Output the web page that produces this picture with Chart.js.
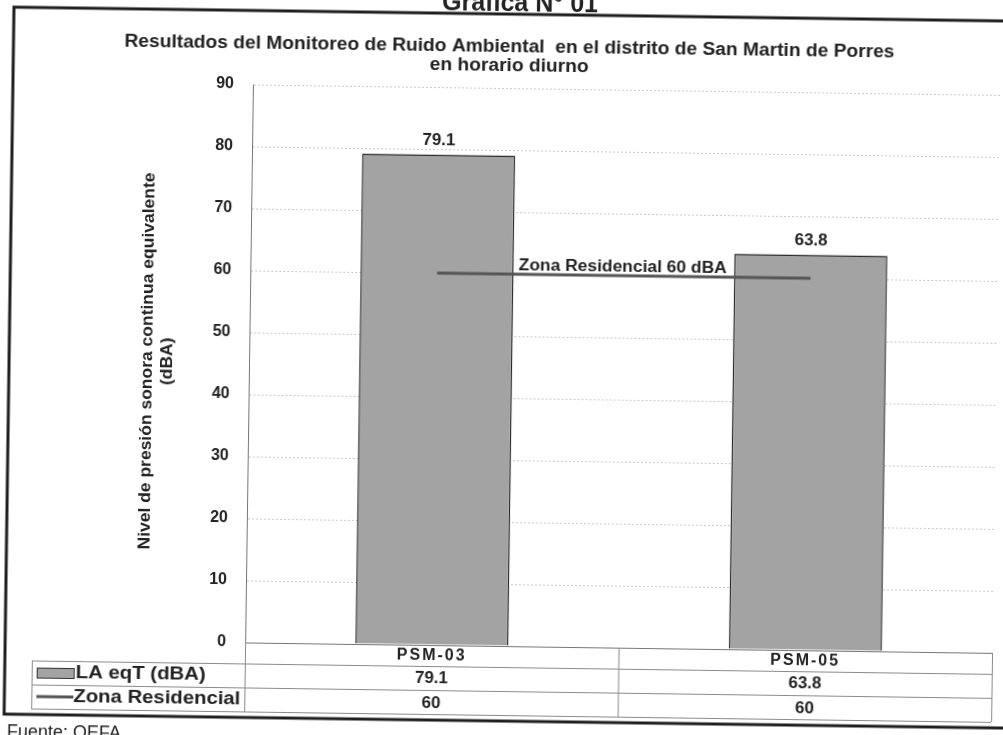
<!DOCTYPE html>
<html lang="es">
<head>
<meta charset="UTF-8">
<title>Grafica N° 01</title>
<script src="https://cdn.jsdelivr.net/npm/chart.js@4.4.0/dist/chart.umd.min.js"></script>
<style>
    html, body { margin: 0; padding: 0; background: #fff; overflow: hidden; width: 1003px; height: 735px; }
    /* canvas is 20px larger on each side so the slight scan tilt leaves no bare corners */
    .wrap { position: absolute; left: -20px; top: -20px; width: 1043px; height: 775px; transform: rotate(0.8deg); transform-origin: 50% 50%; }
    canvas { display: block; }
</style>
</head>
<body>
<div class="wrap"><canvas id="chart" width="1043" height="775" style="width:1043px;height:775px"></canvas></div>
<script>
// chart data
const categories = ['PSM-03', 'PSM-05'];
const laeqValues = [79.1, 63.8];
const residentialLimit = [60, 60];
const seriesLabels = ['LA eqT (dBA)', 'Zona Residencial'];
const yMin = 0, yMax = 90, yStep = 10;

// texts
const figureTitle = 'Grafica N° 01';
const chartTitle = ['Resultados del Monitoreo de Ruido Ambiental  en el distrito de San Martin de Porres', 'en horario diurno'];
const yTitle = ['Nivel de presión sonora continua equivalente', '(dBA)'];
const limitNote = 'Zona Residencial 60 dBA';
const sourceNote = 'Fuente: OEFA';

const OFF = 20; // canvas margin beyond the page
const SANS = '"Liberation Sans", Arial, sans-serif';
const INK = '#222';
const BAR_FILL = '#a3a3a3';
const LINE_COLOR = '#555';

// draws text squeezed/stretched horizontally to a given width (Arial Narrow look)
function fitText(ctx, str, x, y, font, width, align, sx) {
    ctx.font = font;
    const k = sx || width / ctx.measureText(str).width;
    ctx.save();
    ctx.translate(x, y);
    ctx.scale(k, 1);
    ctx.textAlign = align || 'center';
    ctx.fillText(str, 0, 0);
    ctx.restore();
    return k;
}

const decor = {
    id: 'decor',
    afterDraw(chart) {
        const ctx = chart.ctx;
        const x = chart.scales.x;
        // work in page coordinates
        const area = {
            left: chart.chartArea.left - OFF, right: chart.chartArea.right - OFF,
            bottom: chart.chartArea.bottom - OFF
        };
        const px = i => x.getPixelForValue(i) - OFF;
        ctx.save();
        ctx.translate(OFF, OFF);

        // outer frame (right side runs off the page)
        ctx.strokeStyle = '#1e1e1e';
        ctx.lineWidth = 3;
        ctx.strokeRect(9, 14, 1015, 707);

        ctx.fillStyle = INK;
        ctx.textAlign = 'center';
        ctx.textBaseline = 'middle';

        // figure title (cut by the top of the page)
        ctx.font = 'bold 25px ' + SANS;
        ctx.fillText(figureTitle, 515, 4);

        // chart title
        const k = fitText(ctx, chartTitle[0], 505, 47, 'bold 18px ' + SANS, 770);
        fitText(ctx, chartTitle[1], 505, 66, 'bold 18px ' + SANS, 0, 'center', k);

        // y axis title
        ctx.save();
        ctx.translate(147, 366);
        ctx.rotate(-Math.PI / 2);
        const ky = fitText(ctx, yTitle[0], 0, 0, 'bold 17px ' + SANS, 377);
        fitText(ctx, yTitle[1], 0, 20, 'bold 17px ' + SANS, 0, 'center', ky);
        ctx.restore();

        // bar value labels
        const bars = chart.getDatasetMeta(0).data;
        ctx.font = 'bold 17px ' + SANS;
        bars.forEach((b, i) => ctx.fillText(laeqValues[i].toFixed(1), b.x - OFF, b.y - OFF - 14));

        // limit line note
        const lineMeta = chart.getDatasetMeta(1).data;
        ctx.textBaseline = 'alphabetic';
        fitText(ctx, limitNote, bars[0].x - OFF + bars[0].width / 2 + 5, lineMeta[0].y - OFF - 4, 'bold 16px ' + SANS, 208, 'left');

        // data table
        const half = (px(1) - px(0)) / 2;
        const cols = [area.left, px(0) + half, area.right];
        const r0 = area.bottom, r1 = r0 + 21, r2 = r1 + 24, r3 = r2 + 24;
        const legendLeft = 36;
        ctx.strokeStyle = '#8a8a8a';
        ctx.lineWidth = 1;
        ctx.beginPath();
        [r1, r2, r3].forEach(r => { ctx.moveTo(legendLeft, r + 0.5); ctx.lineTo(area.right, r + 0.5); });
        cols.forEach(c => { ctx.moveTo(c + 0.5, r0); ctx.lineTo(c + 0.5, r3); });
        ctx.moveTo(legendLeft + 0.5, r1); ctx.lineTo(legendLeft + 0.5, r3);
        ctx.stroke();

        ctx.fillStyle = INK;
        ctx.textAlign = 'center';
        ctx.textBaseline = 'middle';
        categories.forEach((c, i) => {
            const cx = px(i);
            ctx.font = 'bold 16px ' + SANS;
            ctx.letterSpacing = '2px';
            ctx.fillText(c, cx, (r0 + r1) / 2);
            ctx.letterSpacing = '0px';
            ctx.font = 'bold 17px ' + SANS;
            ctx.fillText(laeqValues[i].toFixed(1), cx, (r1 + r2) / 2);
            ctx.fillText(String(residentialLimit[i]), cx, (r2 + r3) / 2 + 1);
        });

        // legend keys
        ctx.fillStyle = BAR_FILL;
        ctx.strokeStyle = '#333';
        ctx.fillRect(41, r1 + 7, 37, 10);
        ctx.strokeRect(41.5, r1 + 7.5, 37, 10);
        ctx.strokeStyle = LINE_COLOR;
        ctx.lineWidth = 3;
        ctx.beginPath();
        ctx.moveTo(41, (r2 + r3) / 2);
        ctx.lineTo(78, (r2 + r3) / 2);
        ctx.stroke();
        ctx.fillStyle = INK;
        fitText(ctx, seriesLabels[0], 80, (r1 + r2) / 2, 'bold 18px ' + SANS, 130, 'left');
        fitText(ctx, seriesLabels[1], 78, (r2 + r3) / 2, 'bold 18px ' + SANS, 167, 'left');

        // source (cut by the bottom of the page)
        ctx.textAlign = 'left';
        ctx.font = '18px ' + SANS;
        ctx.fillText(sourceNote, 12, 739);

        ctx.restore();
    }
};

new Chart(document.getElementById('chart'), {
    data: {
        labels: categories,
        datasets: [
            {
                type: 'bar',
                label: seriesLabels[0],
                data: laeqValues,
                backgroundColor: BAR_FILL,
                borderColor: '#2b2b2b',
                borderWidth: 1.5,
                categoryPercentage: 1,
                barPercentage: 0.41,
                order: 2
            },
            {
                type: 'line',
                label: seriesLabels[1],
                data: residentialLimit,
                borderColor: LINE_COLOR,
                borderWidth: 3,
                pointRadius: 0,
                fill: false,
                order: 1
            }
        ]
    },
    options: {
        responsive: false,
        animation: false,
        layout: { padding: { left: OFF, top: 88 + OFF, right: 7 + OFF, bottom: 89 + OFF } },
        plugins: {
            legend: { display: false },
            title: { display: false },
            tooltip: { enabled: false }
        },
        scales: {
            x: {
                ticks: { display: false },
                grid: { display: false },
                border: { display: true, color: '#777' },
                afterFit(scale) { scale.height = 0; }
            },
            y: {
                min: yMin,
                max: yMax,
                ticks: {
                    stepSize: yStep,
                    padding: 19,
                    color: INK,
                    font: { family: SANS, size: 16, weight: 'bold' }
                },
                grid: { color: '#c8c8c8', drawTicks: false },
                border: { display: true, color: '#777', dash: [2, 2] },
                afterFit(scale) { scale.width = 249; }
            }
        }
    },
    plugins: [decor]
});
</script>
</body>
</html>
